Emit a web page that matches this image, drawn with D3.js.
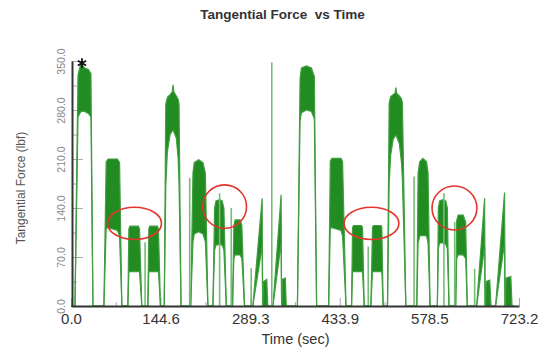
<!DOCTYPE html>
<meta charset="utf-8">
<script src="https://d3js.org/d3.v7.min.js"></script>
<style>
  body { margin: 0; background: #fff; }
  text { font-family: "Liberation Sans", Arial, sans-serif; }
</style>
<div id="my_dataviz"></div>
<script>

// envelope of the force trace: time, bottom and top of the oscillation band
var timeSec = [0, 6.4, 11.3, 16, 22, 28, 32.2, 35.4,
  53.1, 56.8, 60, 75, 78.4, 82.1,
  91.8, 93.4, 95, 108.9, 110.6, 114.3,
  124, 125.6, 127, 139.5, 141.2, 144.4,
  150.5, 153, 155.5, 160, 163.5, 164.7, 166, 170, 173, 174.4, 177.6,
  193.2, 196.9, 199, 206, 213, 216.9, 221,
  229.1, 231.8, 234, 240, 244, 246.8, 250.7,
  260.8, 262.9, 265, 273, 275.8, 280.1,
  293.5, 308.6, 309.4, 311, 316, 317.7,
  326, 339.2, 340, 341.5, 346, 347.5,
  365.5, 369.8, 372, 380, 388, 392.8, 396.5,
  415.9, 418.6, 421, 436, 438.4, 443.9,
  452.9, 454.5, 456, 469, 470.6, 473.3,
  484.1, 486.7, 488, 500.5, 501.8, 503.9,
  510.9, 513.6, 516, 520, 523.2, 524.4, 525.6, 530, 533.5, 535, 540.5,
  558.2, 560.3, 563, 568, 574, 576.4, 579.6,
  591.4, 593, 595, 600, 605, 607.5, 610.2,
  621, 622.6, 625, 633, 637.1, 639.7,
  654.8, 667.7, 668.5, 670.5, 676, 678,
  685.4, 699.9, 700.6, 702.5, 710, 712, 716];
var lowLbf = [0, 0, 270, 278, 278, 275, 270, 0,
  0, 111, 112, 108, 100, 0,
  0, 49, 49, 49, 49, 0,
  0, 49, 49, 49, 49, 0,
  0, 170, 220, 245, 250, 251, 249, 240, 210, 175, 0,
  0, 92, 103, 106, 103, 92, 0,
  0, 80, 87, 88, 87, 80, 0,
  0, 68, 73, 73, 68, 0,
  0, 85, 0, 0, 0, 0,
  0, 90, 0, 0, 0, 0,
  0, 265, 276, 280, 278, 268, 0,
  0, 111, 112, 108, 100, 0,
  0, 49, 49, 49, 49, 0,
  0, 49, 49, 49, 49, 0,
  0, 175, 215, 238, 243, 244, 242, 232, 205, 180, 0,
  0, 90, 100, 101, 100, 90, 0,
  0, 82, 90, 90, 88, 82, 0,
  0, 68, 73, 73, 68, 0,
  0, 85, 0, 0, 0, 0,
  0, 90, 0, 0, 0, 0, 0];
var highLbf = [0, 0, 330, 347, 340, 338, 332, 0,
  0, 206, 210, 210, 205, 0,
  0, 110, 114, 114, 110, 0,
  0, 110, 114, 114, 110, 0,
  0, 288, 298, 302, 306, 316, 306, 300, 295, 288, 0,
  0, 190, 205, 209, 205, 190, 0,
  0, 140, 150, 152, 150, 140, 0,
  0, 115, 123, 123, 115, 0,
  0, 154, 0, 35, 38, 0,
  0, 159, 0, 38, 40, 0,
  0, 325, 340, 343, 340, 328, 0,
  0, 207, 211, 211, 206, 0,
  0, 112, 115, 115, 112, 0,
  0, 112, 115, 115, 112, 0,
  0, 290, 299, 302, 304, 312, 304, 300, 296, 290, 0,
  0, 190, 206, 211, 206, 190, 0,
  0, 140, 150, 152, 150, 140, 0,
  0, 122, 130, 130, 120, 0,
  0, 154, 0, 35, 37, 0,
  0, 162, 0, 40, 42, 0, 0];

// single thin spikes
var spikeSec = [119.6, 191.6, 239.9, 258.7, 290.9, 324.1, 479.8, 553.8, 602, 619.4, 651.6];
var spikeLbf = [91, 183, 161, 140, 54, 348, 85, 185, 161, 120, 53];

// red rings (centre and half extent, data units)
var ringSec = [102.6, 248, 485, 619];
var ringLbf = [118, 142, 118, 140];
var ringHalfSec = [43.5, 35.4, 44.3, 36.2];
var ringHalfLbf = [23, 31, 23, 31.4];

// max marker
var peakSec = 17.7, peakLbf = 347;

var xTicks = [0, 144.6, 289.3, 433.9, 578.5, 723.2];
var yTicks = [0, 70, 140, 210, 280, 350];

var width = 542, height = 352;

var svg = d3.select("#my_dataviz")
  .append("svg")
    .attr("width", width)
    .attr("height", height);

var x = d3.scaleLinear().domain([0, 723.2]).range([71, 519]);
var y = d3.scaleLinear().domain([0, 350]).range([306, 61]);

// tick marks + labels (under the trace)
var yMinor = d3.pairs(yTicks).map(function(p) { return (p[0] + p[1]) / 2; });
var xMinor = d3.pairs(xTicks).map(function(p) { return (p[0] + p[1]) / 2; });

var yAxis = svg.append("g")
  .attr("transform", "translate(72,0)")
  .call(d3.axisLeft(y).tickValues(yTicks).tickSize(-11).tickSizeOuter(0).tickFormat(d3.format(".1f")));
yAxis.select(".domain").remove();
yAxis.selectAll(".tick line").attr("stroke", "#aaa");
yAxis.selectAll("text")
  .attr("transform", "rotate(-90)")
  .attr("x", 0)
  .attr("y", -7)
  .attr("dy", null)
  .attr("text-anchor", "middle")
  .attr("fill", "#888")
  .style("font-size", "10.5px");

var yMinorAxis = svg.append("g")
  .attr("transform", "translate(72,0)")
  .call(d3.axisLeft(y).tickValues(yMinor).tickSize(-5).tickFormat(""));
yMinorAxis.select(".domain").remove();
yMinorAxis.selectAll(".tick line").attr("stroke", "#aaa");

var xAxis = svg.append("g")
  .attr("transform", "translate(0,306)")
  .call(d3.axisBottom(x).tickValues(xTicks).tickSize(-8).tickSizeOuter(0).tickPadding(7).tickFormat(d3.format(".1f")));
xAxis.select(".domain").remove();
xAxis.selectAll(".tick line").attr("stroke", "#aaa");
xAxis.selectAll("text")
  .attr("fill", "#333")
  .style("font-size", "15px");

var xMinorAxis = svg.append("g")
  .attr("transform", "translate(0,306)")
  .call(d3.axisBottom(x).tickValues(xMinor).tickSize(-4).tickFormat(""));
xMinorAxis.select(".domain").remove();
xMinorAxis.selectAll(".tick line").attr("stroke", "#aaa");

// the trace
var pts = timeSec.map(function(t, i) { return {t: t, lo: lowLbf[i], hi: highLbf[i]}; });

svg.append("path")
  .datum(pts)
  .attr("fill", "#228b22")
  .attr("d", d3.area()
    .x(function(d) { return x(d.t); })
    .y0(function(d) { return y(d.lo); })
    .y1(function(d) { return y(d.hi); }));

svg.append("path")
  .datum(pts)
  .attr("fill", "none")
  .attr("stroke", "#3f9f3f")
  .attr("stroke-width", 1.2)
  .attr("d", d3.line()
    .x(function(d) { return x(d.t); })
    .y(function(d) { return y(d.hi); }));

svg.append("path")
  .datum(pts)
  .attr("fill", "none")
  .attr("stroke", "#3f9f3f")
  .attr("stroke-width", 1.2)
  .attr("d", d3.line()
    .x(function(d) { return x(d.t); })
    .y(function(d) { return y(d.lo); }));

svg.selectAll(".spike")
  .data(spikeSec)
  .enter()
  .append("line")
    .attr("class", "spike")
    .attr("x1", function(d) { return x(d); })
    .attr("x2", function(d) { return x(d); })
    .attr("y1", y(0))
    .attr("y2", function(d, i) { return y(spikeLbf[i]); })
    .attr("stroke", "#74bd74")
    .attr("stroke-width", 1.6);

// axis lines on top
var yLine = svg.append("g")
  .attr("transform", "translate(72,0)")
  .call(d3.axisLeft(y).tickValues([]).tickSizeOuter(0));
yLine.select(".domain").attr("stroke", "#333").attr("stroke-width", 2);

var xLine = svg.append("g")
  .attr("transform", "translate(0,306)")
  .call(d3.axisBottom(x).tickValues([]).tickSizeOuter(0));
xLine.select(".domain").attr("stroke", "#333").attr("stroke-width", 2);

// rings
svg.selectAll(".ring")
  .data(ringSec)
  .enter()
  .append("ellipse")
    .attr("class", "ring")
    .attr("cx", function(d) { return x(d); })
    .attr("cy", function(d, i) { return y(ringLbf[i]); })
    .attr("rx", function(d, i) { return x(d + ringHalfSec[i]) - x(d); })
    .attr("ry", function(d, i) { return y(ringLbf[i] - ringHalfLbf[i]) - y(ringLbf[i]); })
    .attr("fill", "none")
    .attr("stroke", "#e5342c")
    .attr("stroke-width", 1.6);

// peak marker
svg.append("path")
  .attr("d", d3.symbol(d3.symbolAsterisk, 64)())
  .attr("transform", "translate(" + x(peakSec) + "," + y(peakLbf) + ")")
  .attr("fill", "none")
  .attr("stroke", "#111")
  .attr("stroke-width", 1.8);

// titles
svg.append("text")
  .attr("x", 282.5)
  .attr("y", 19)
  .attr("text-anchor", "middle")
  .style("white-space", "pre")
  .style("font-size", "13.5px")
  .style("font-weight", "bold")
  .attr("fill", "#333")
  .text("Tangential Force  vs Time");

svg.append("text")
  .attr("transform", "translate(25,188) rotate(-90)")
  .attr("text-anchor", "middle")
  .style("font-size", "12px")
  .attr("fill", "#555")
  .text("Tangential Force (lbf)");

svg.append("text")
  .attr("x", 295.5)
  .attr("y", 344)
  .attr("text-anchor", "middle")
  .style("font-size", "14.5px")
  .attr("fill", "#333")
  .text("Time (sec)");

</script>
